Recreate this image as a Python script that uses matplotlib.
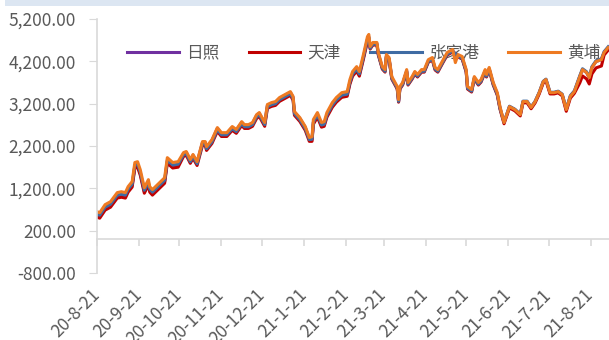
import matplotlib
matplotlib.use('Agg')
import matplotlib.pyplot as plt
from matplotlib.patches import Rectangle
import pandas as pd

plt.rcParams['font.family'] = ['Noto Sans CJK SC', 'DejaVu Sans']

GREY_TEXT = '#595959'
GREY_AXIS = '#D9D9D9'

series_names = ['日照', '天津', '张家港', '黄埔']
series_colors = ['#7030A0', '#C00000', '#3F6BA3', '#EE7A22']

dates = [
    '2020-08-21', '2020-08-23', '2020-08-27', '2020-08-31', '2020-09-05', '2020-09-08', '2020-09-11', '2020-09-13', '2020-09-16', '2020-09-18',
    '2020-09-20', '2020-09-22', '2020-09-25', '2020-09-28', '2020-09-29', '2020-10-01', '2020-10-10', '2020-10-12', '2020-10-16', '2020-10-20',
    '2020-10-24', '2020-10-26', '2020-10-29', '2020-10-31', '2020-11-03', '2020-11-07', '2020-11-09', '2020-11-10', '2020-11-14', '2020-11-18',
    '2020-11-21', '2020-11-25', '2020-11-29', '2020-12-02', '2020-12-06', '2020-12-08', '2020-12-11', '2020-12-14', '2020-12-17', '2020-12-19',
    '2020-12-21', '2020-12-23', '2020-12-25', '2020-12-28', '2020-12-31', '2021-01-03', '2021-01-07', '2021-01-11', '2021-01-13', '2021-01-14',
    '2021-01-18', '2021-01-22', '2021-01-25', '2021-01-27', '2021-01-28', '2021-01-31', '2021-02-03', '2021-02-05', '2021-02-07', '2021-02-11',
    '2021-02-14', '2021-02-18', '2021-02-22', '2021-02-24', '2021-02-26', '2021-03-01', '2021-03-03', '2021-03-06', '2021-03-09', '2021-03-10',
    '2021-03-11', '2021-03-13', '2021-03-16', '2021-03-17', '2021-03-20', '2021-03-22', '2021-03-23', '2021-03-25', '2021-03-27', '2021-03-31',
    '2021-04-01', '2021-04-02', '2021-04-04', '2021-04-07', '2021-04-08', '2021-04-11', '2021-04-13', '2021-04-15', '2021-04-18', '2021-04-20',
    '2021-04-23', '2021-04-26', '2021-04-28', '2021-04-30', '2021-05-04', '2021-05-07', '2021-05-11', '2021-05-13', '2021-05-15', '2021-05-18',
    '2021-05-21', '2021-05-22', '2021-05-25', '2021-05-27', '2021-05-30', '2021-06-01', '2021-06-04', '2021-06-05', '2021-06-07', '2021-06-10',
    '2021-06-13', '2021-06-15', '2021-06-18', '2021-06-22', '2021-06-26', '2021-06-30', '2021-07-02', '2021-07-05', '2021-07-08', '2021-07-11',
    '2021-07-14', '2021-07-17', '2021-07-19', '2021-07-22', '2021-07-25', '2021-07-28', '2021-07-31', '2021-08-03', '2021-08-06', '2021-08-09',
    '2021-08-13', '2021-08-15', '2021-08-18', '2021-08-20', '2021-08-22', '2021-08-25', '2021-08-29', '2021-08-31', '2021-09-03',
]

rizhao = [
    560, 535, 725, 795, 1010, 1030, 1010, 1150, 1270, 1720,
    1740, 1550, 1125, 1315, 1150, 1080, 1360, 1835, 1720, 1740,
    2025, 2050, 1860, 1980, 1810, 2285, 2285, 2165, 2330, 2615,
    2495, 2495, 2640, 2570, 2755, 2685, 2685, 2735, 2920, 2970,
    2850, 2735, 3160, 3205, 3230, 3325, 3395, 3465, 3350, 2995,
    2850, 2640, 2380, 2350, 2755, 2920, 2685, 2705, 2920, 3155,
    3275, 3390, 3415, 3700, 3890, 4005, 3890, 4290, 4715, 4765,
    4520, 4615, 4615, 4380, 4045, 3975, 4330, 4260, 3810, 3575,
    3265, 3575, 3670, 3975, 3670, 3810, 3930, 3860, 3975, 3975,
    4210, 4260, 4025, 3975, 4210, 4380, 4450, 4370, 4330, 4285,
    3975, 3575, 3505, 3810, 3670, 3740, 3975, 3860, 4025, 3670,
    3430, 3100, 2755, 3130, 3060, 2940, 3250, 3250, 3110, 3250,
    3460, 3720, 3770, 3460, 3460, 3485, 3415, 3060, 3370, 3485,
    3840, 4005, 3935, 3815, 4055, 4195, 4240, 4410, 4525,
]

tianjin = [
    520, 495, 685, 755, 970, 990, 970, 1110, 1230, 1680,
    1700, 1510, 1085, 1275, 1110, 1040, 1320, 1795, 1680, 1700,
    1955, 1980, 1790, 1910, 1740, 2215, 2215, 2095, 2260, 2545,
    2425, 2425, 2570, 2500, 2685, 2615, 2615, 2665, 2850, 2900,
    2780, 2665, 3090, 3135, 3160, 3255, 3325, 3395, 3280, 2925,
    2780, 2570, 2310, 2310, 2715, 2880, 2645, 2665, 2880, 3115,
    3235, 3350, 3375, 3660, 3850, 3965, 3850, 4250, 4675, 4725,
    4490, 4585, 4585, 4350, 4015, 3945, 4300, 4230, 3780, 3545,
    3235, 3545, 3640, 3945, 3640, 3780, 3900, 3830, 3945, 3945,
    4180, 4230, 3995, 3945, 4180, 4350, 4420, 4380, 4300, 4255,
    3945, 3545, 3475, 3780, 3640, 3710, 3945, 3830, 3995, 3640,
    3400, 3070, 2725, 3100, 3030, 2910, 3220, 3220, 3080, 3220,
    3430, 3690, 3740, 3430, 3430, 3455, 3385, 3020, 3330, 3445,
    3690, 3855, 3785, 3665, 3905, 4045, 4090, 4350, 4465,
]

zhangjiagang = [
    590, 565, 755, 825, 1040, 1060, 1040, 1180, 1300, 1750,
    1770, 1580, 1155, 1345, 1180, 1110, 1390, 1865, 1750, 1770,
    1995, 2020, 1830, 1950, 1780, 2255, 2255, 2135, 2300, 2585,
    2465, 2465, 2610, 2540, 2725, 2655, 2655, 2705, 2890, 2940,
    2820, 2705, 3130, 3175, 3200, 3295, 3365, 3435, 3320, 2965,
    2820, 2610, 2350, 2360, 2765, 2930, 2695, 2715, 2930, 3165,
    3285, 3400, 3425, 3710, 3900, 4015, 3900, 4300, 4725, 4775,
    4510, 4605, 4605, 4370, 4035, 3965, 4320, 4250, 3800, 3565,
    3255, 3565, 3660, 3965, 3660, 3800, 3920, 3850, 3965, 3965,
    4200, 4250, 4015, 3965, 4200, 4370, 4440, 4380, 4320, 4275,
    3965, 3565, 3495, 3800, 3660, 3730, 3965, 3850, 4015, 3660,
    3420, 3090, 2765, 3140, 3070, 2950, 3260, 3260, 3120, 3260,
    3470, 3730, 3780, 3470, 3470, 3495, 3425, 3080, 3390, 3505,
    3860, 4025, 3955, 3835, 4075, 4215, 4260, 4430, 4545,
]

huangpu = [
    650, 625, 815, 885, 1100, 1120, 1100, 1240, 1360, 1810,
    1830, 1640, 1215, 1405, 1240, 1170, 1450, 1925, 1810, 1830,
    2045, 2070, 1880, 2000, 1830, 2305, 2305, 2185, 2350, 2635,
    2515, 2515, 2660, 2590, 2775, 2705, 2705, 2755, 2940, 2990,
    2870, 2755, 3180, 3225, 3250, 3345, 3415, 3485, 3370, 3015,
    2870, 2660, 2400, 2420, 2825, 2990, 2755, 2775, 2990, 3225,
    3345, 3460, 3485, 3770, 3960, 4075, 3960, 4360, 4785, 4835,
    4550, 4645, 4645, 4410, 4075, 4005, 4360, 4290, 3840, 3605,
    3295, 3605, 3700, 4005, 3700, 3840, 3960, 3890, 4005, 4005,
    4240, 4290, 4055, 4005, 4240, 4410, 4480, 4170, 4360, 4315,
    4005, 3605, 3535, 3840, 3700, 3770, 4005, 3890, 4055, 3700,
    3460, 3130, 2755, 3130, 3060, 2940, 3250, 3250, 3110, 3250,
    3460, 3720, 3770, 3460, 3460, 3485, 3415, 3060, 3370, 3485,
    3840, 4005, 3935, 3815, 4055, 4195, 4240, 4410, 4525,
]

tick_dates = ['2020-08-21', '2020-09-21', '2020-10-21', '2020-11-21', '2020-12-21', '2021-01-21', '2021-02-21',
              '2021-03-21', '2021-04-21', '2021-05-21', '2021-06-21', '2021-07-21', '2021-08-21']
tick_labels = ['20-8-21', '20-9-21', '20-10-21', '20-11-21', '20-12-21', '21-1-21', '21-2-21',
               '21-3-21', '21-4-21', '21-5-21', '21-6-21', '21-7-21', '21-8-21']
y_ticks = [-800, 200, 1200, 2200, 3200, 4200, 5200]


def main():
    fig = plt.figure(figsize=(6.09, 3.40), dpi=100)
    # light band along the top edge
    fig.patches.append(Rectangle((5 / 609, 334.5 / 340), 1, 1, transform=fig.transFigure,
                                 facecolor='#DCE6F2', edgecolor='none'))
    ax = fig.add_axes([97 / 609, 67 / 340, 512 / 609, 254 / 340])

    x = pd.to_datetime(dates)
    all_series = [rizhao, tianjin, zhangjiagang, huangpu]
    for name, vals, color in zip(series_names, all_series, series_colors):
        ax.plot(x, vals, color=color, lw=2.2, label=name, solid_joinstyle='round', zorder=2)

    start = pd.Timestamp('2020-08-21')
    ax.set_xlim(start, start + pd.Timedelta(days=378.6))
    ax.set_ylim(-800, 5200)

    ax.set_yticks(y_ticks)
    ax.set_yticklabels([f'{v:,.2f}' for v in y_ticks])
    ax.tick_params(axis='y', length=6, color=GREY_AXIS, labelcolor=GREY_TEXT, labelsize=12.5, pad=9)

    ticks = pd.to_datetime(tick_dates)
    ax.set_xticks(ticks)
    ax.set_xticklabels(tick_labels, rotation=45, ha='right', va='center', rotation_mode='anchor')
    ax.tick_params(axis='x', length=0, labelcolor=GREY_TEXT, labelsize=12.5, pad=14)

    for side in ['top', 'right', 'bottom']:
        ax.spines[side].set_visible(False)
    ax.spines['left'].set_color(GREY_AXIS)
    ax.spines['left'].set_linewidth(1.2)

    # horizontal axis crosses at zero
    zero_axis = ax.secondary_xaxis(800 / 6000)
    zero_axis.set_xticks(ticks)
    zero_axis.set_xticklabels([])
    zero_axis.tick_params(length=5, color=GREY_AXIS, width=1.2)
    zero_axis.spines['bottom'].set_color(GREY_AXIS)
    zero_axis.spines['bottom'].set_linewidth(1.2)

    leg = ax.legend(ncol=4, loc='upper left', bbox_to_anchor=(30 / 512, 0.90), frameon=False,
                    handlelength=3.1, handletextpad=0.45, columnspacing=1.75, fontsize=12,
                    labelcolor=GREY_TEXT, borderpad=0, borderaxespad=0)
    leg.set_zorder(1)

    fig.savefig('out.png', dpi=100)


if __name__ == '__main__':
    main()
